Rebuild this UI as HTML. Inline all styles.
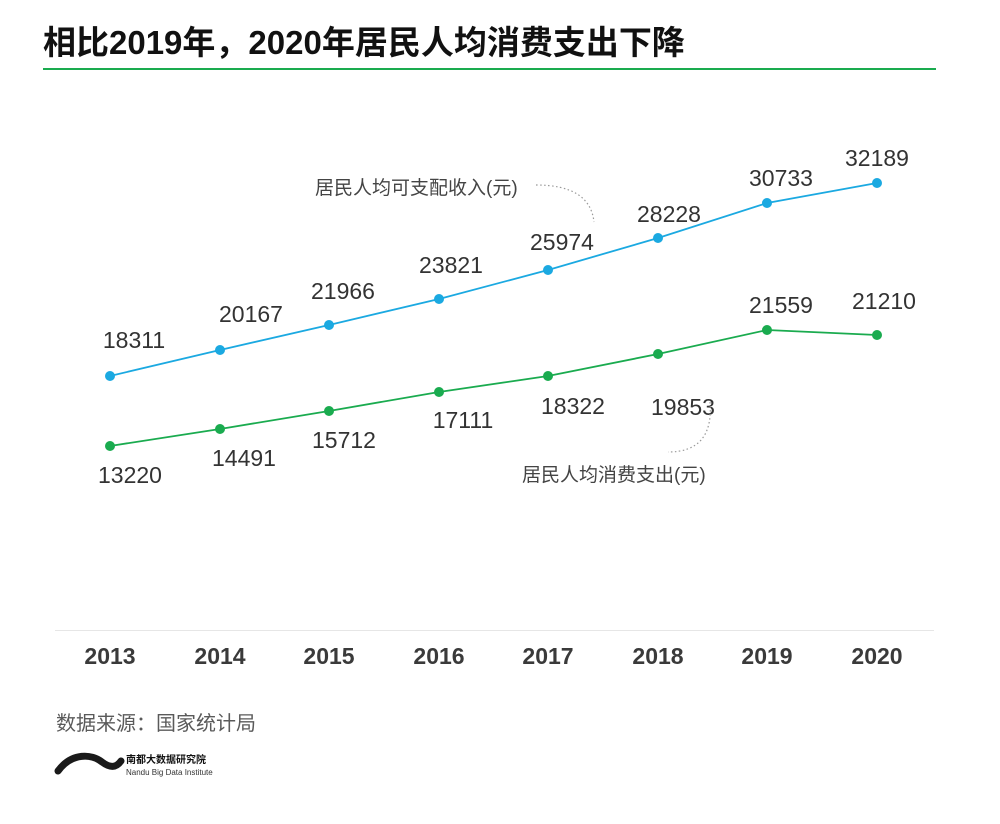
<!DOCTYPE html>
<html><head><meta charset="utf-8"><style>
body{margin:0;background:#fff;width:1000px;height:819px;overflow:hidden;font-family:"Liberation Sans","Noto Sans CJK SC",sans-serif}
</style></head><body>
<svg width="1000" height="819" viewBox="0 0 1000 819" xmlns="http://www.w3.org/2000/svg" font-family="Liberation Sans, Noto Sans CJK SC, sans-serif">
<text x="43" y="54" font-size="33" font-weight="bold" fill="#111">相比2019年，2020年居民人均消费支出下降</text>
<line x1="43" y1="69" x2="936" y2="69" stroke="#1aab4f" stroke-width="2"/>
<line x1="55" y1="630.5" x2="934" y2="630.5" stroke="#e6e6e6" stroke-width="1"/>
<g font-size="23" font-weight="bold" fill="#3a3a3a" text-anchor="middle">
<text x="110" y="664">2013</text><text x="220" y="664">2014</text><text x="329" y="664">2015</text><text x="439" y="664">2016</text><text x="548" y="664">2017</text><text x="658" y="664">2018</text><text x="767" y="664">2019</text><text x="877" y="664">2020</text>
</g>
<polyline fill="none" stroke="#1ba9e1" stroke-width="1.8" points="110,376 220,350 329,325 439,299 548,270 658,238 767,203 877,183"/>
<polyline fill="none" stroke="#1aab4f" stroke-width="1.8" points="110,446 220,429 329,411 439,392 548,376 658,354 767,330 877,335"/>
<g fill="#1ba9e1"><circle cx="110" cy="376" r="5"/><circle cx="220" cy="350" r="5"/><circle cx="329" cy="325" r="5"/><circle cx="439" cy="299" r="5"/><circle cx="548" cy="270" r="5"/><circle cx="658" cy="238" r="5"/><circle cx="767" cy="203" r="5"/><circle cx="877" cy="183" r="5"/></g>
<g fill="#1aab4f"><circle cx="110" cy="446" r="5"/><circle cx="220" cy="429" r="5"/><circle cx="329" cy="411" r="5"/><circle cx="439" cy="392" r="5"/><circle cx="548" cy="376" r="5"/><circle cx="658" cy="354" r="5"/><circle cx="767" cy="330" r="5"/><circle cx="877" cy="335" r="5"/></g>
<g font-size="23" fill="#333" text-anchor="middle">
<text x="134" y="348">18311</text><text x="251" y="322">20167</text><text x="343" y="299">21966</text><text x="451" y="273">23821</text><text x="562" y="250">25974</text><text x="669" y="222">28228</text><text x="781" y="186">30733</text><text x="877" y="166">32189</text>
<text x="130" y="483">13220</text><text x="244" y="466">14491</text><text x="344" y="448">15712</text><text x="463" y="428">17111</text><text x="573" y="414">18322</text><text x="683" y="415">19853</text><text x="781" y="313">21559</text><text x="884" y="309">21210</text>
</g>
<text x="315" y="194" font-size="19" fill="#444">居民人均可支配收入(元)</text>
<path d="M536,185 Q590,185 594,222" fill="none" stroke="#999" stroke-width="1.2" stroke-dasharray="1.5,2.5"/>
<text x="522" y="481" font-size="19" fill="#444">居民人均消费支出(元)</text>
<path d="M710,402 Q714,452 668,452" fill="none" stroke="#999" stroke-width="1.2" stroke-dasharray="1.5,2.5"/>
<text x="56" y="730" font-size="20" fill="#5a5a5a">数据来源：国家统计局</text>
<path d="M58,771 C72,752 92,754 102,762 C110,768 116,768 121,761" fill="none" stroke="#1a1a1a" stroke-width="7" stroke-linecap="round"/>
<text x="126" y="763" font-size="10" font-weight="bold" fill="#111">南都大数据研究院</text>
<text x="126" y="775" font-size="8" fill="#333">Nandu Big Data Institute</text>
</svg>
</body></html>
